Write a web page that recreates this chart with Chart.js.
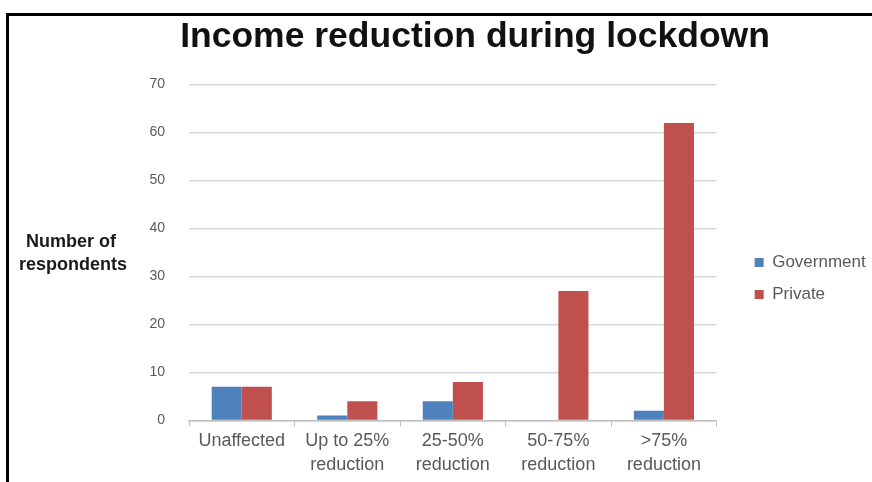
<!DOCTYPE html>
<html>
<head>
<meta charset="utf-8">
<script src="https://cdn.jsdelivr.net/npm/chart.js@4.4.1/dist/chart.umd.min.js"></script>
<style>
  html, body { margin: 0; padding: 0; background: #fff; }
  #wrap { position: relative; width: 872px; height: 482px; }
  #frame { position: absolute; left: 6px; top: 13px; right: 0; bottom: 0;
           border-top: 3px solid #000; border-left: 3px solid #000; pointer-events: none; }
</style>
</head>
<body>
<div id="wrap">
  <canvas id="barchart" width="872" height="482"></canvas>
  <div id="frame"></div>
</div>
<script>
const categories = ["Unaffected", ["Up to 25%", "reduction"], ["25-50%", "reduction"], ["50-75%", "reduction"], [">75%", "reduction"]];
const government = [7, 1, 4, 0, 2];
const privateSector = [7, 4, 8, 27, 62];
const yTicks = [0, 10, 20, 30, 40, 50, 60, 70];

// horizontal y-axis title, drawn to the left of the tick labels
const yTitle = {
  id: "yTitle",
  afterDraw(chart) {
    const c = chart.ctx;
    c.save();
    c.font = "bold 18px 'Liberation Sans', Arial, sans-serif";
    c.fillStyle = "#1a1a1a";
    c.textAlign = "left";
    c.textBaseline = "middle";
    c.fillText("Number of", 26, 242);
    c.fillText("respondents", 19, 265);
    c.restore();
  }
};

// nudge the legend down so it sits a bit below the middle, like the original
const legendShift = {
  id: "legendShift",
  afterLayout(chart) {
    chart.legend.top += 39;
    chart.legend.bottom += 39;
  }
};

const ctxBar = document.getElementById("barchart").getContext("2d");
const barChart = new Chart(ctxBar, {
  type: "bar",
  data: {
    labels: categories,
    datasets: [{
        label: "Government",
        data: government,
        backgroundColor: "#4F81BD",
        barPercentage: 1,
        categoryPercentage: 0.57
      }, {
        label: "Private",
        data: privateSector,
        backgroundColor: "#C0504D",
        barPercentage: 1,
        categoryPercentage: 0.57
      }]
  },
  plugins: [yTitle, legendShift],
  options: {
    responsive: false,
    animation: false,
    layout: { padding: { left: 78, right: 0, top: 0, bottom: 3 } },
    plugins: {
      title: {
        display: true,
        text: "Income reduction during lockdown",
        color: "#111",
        font: { family: "'Liberation Sans', Arial, sans-serif", size: 35.5, weight: "bold" },
        padding: { top: 16, bottom: 26 }
      },
      legend: {
        position: "right",
        labels: {
          boxWidth: 9,
          boxHeight: 9,
          padding: 15,
          color: "#595959",
          font: { family: "'Liberation Sans', Arial, sans-serif", size: 17 }
        }
      },
      tooltip: { enabled: false }
    },
    scales: {
      x: {
        offset: true,
        grid: { display: true, drawOnChartArea: false, drawTicks: true, tickLength: 6, color: "#bfbfbf", offset: true },
        border: { display: true, color: "#bfbfbf", width: 1.5 },
        ticks: {
          color: "#595959",
          padding: 2,
          maxRotation: 0,
          autoSkip: false,
          font: { family: "'Liberation Sans', Arial, sans-serif", size: 18, lineHeight: 1.35 }
        }
      },
      y: {
        min: 0,
        max: 70,
        afterFit: function (s) { s.width = 111; },
        afterBuildTicks: function (s) { s.ticks = yTicks.map(v => ({ value: v })); },
        grid: { color: "#d9d9d9", lineWidth: 1.5, drawTicks: false },
        border: { display: false },
        ticks: {
          color: "#595959",
          padding: 24,
          font: { family: "'Liberation Sans', Arial, sans-serif", size: 14 }
        }
      },
      gap: {
        type: "linear",
        position: "right",
        display: true,
        afterFit: function (s) { s.width = 23; },
        grid: { display: false },
        border: { display: false },
        ticks: { display: false }
      }
    }
  }
});
</script>
</body>
</html>
